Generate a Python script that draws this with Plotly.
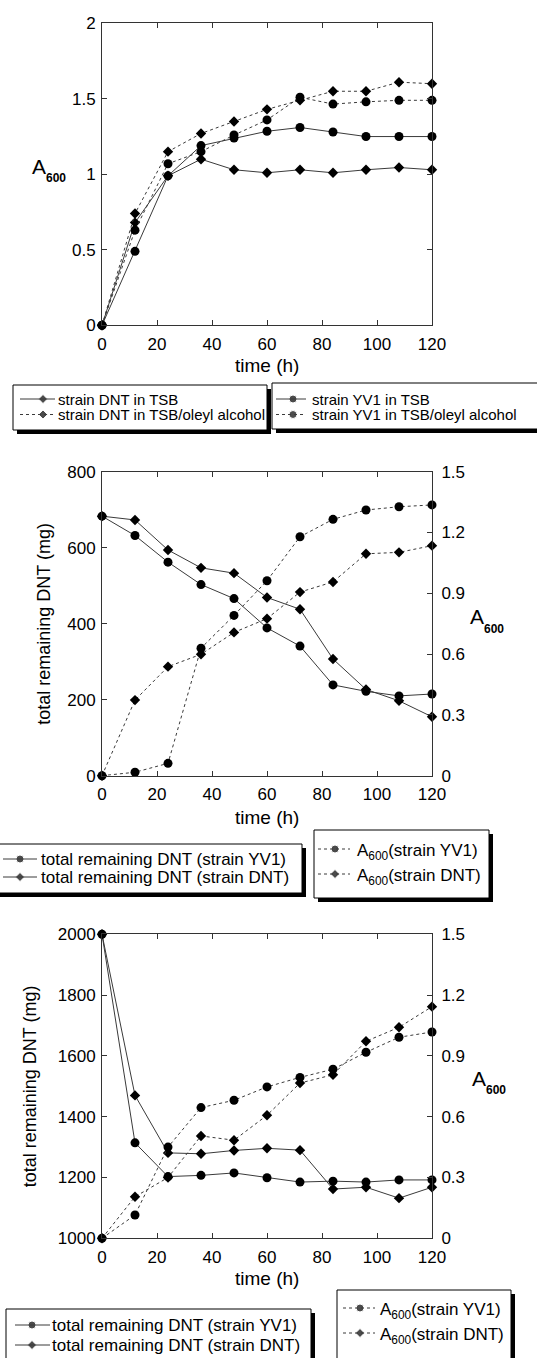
import plotly.graph_objects as go

# ---------------- data ----------------
time_h = [0, 12, 24, 36, 48, 60, 72, 84, 96, 108, 120]

# panel 1: A600
p1_dnt_tsb = [0, 0.68, 0.99, 1.10, 1.03, 1.01, 1.03, 1.01, 1.03, 1.045, 1.03]
p1_dnt_oleyl = [0, 0.74, 1.15, 1.27, 1.35, 1.43, 1.49, 1.55, 1.55, 1.61, 1.60]
p1_yv1_tsb = [0, 0.49, 0.99, 1.19, 1.24, 1.285, 1.31, 1.28, 1.25, 1.25, 1.25]
p1_yv1_oleyl = [0, 0.63, 1.07, 1.15, 1.26, 1.36, 1.51, 1.465, 1.48, 1.49, 1.49]

# panel 2
p2_dnt_yv1 = [683, 632, 562, 503, 466, 389, 341, 239, 222, 210, 215]
p2_dnt_dnt = [683, 673, 594, 547, 533, 469, 438, 307, 227, 197, 155]
p2_a600_yv1 = [0, 0.017, 0.061, 0.629, 0.791, 0.962, 1.179, 1.265, 1.311, 1.327, 1.336]
p2_a600_dnt = [0, 0.373, 0.538, 0.599, 0.707, 0.775, 0.906, 0.956, 1.095, 1.102, 1.135]

# panel 3
p3_dnt_yv1 = [2000, 1314, 1203, 1207, 1215, 1199, 1185, 1188, 1185, 1192, 1192]
p3_dnt_dnt = [2000, 1470, 1281, 1278, 1289, 1296, 1290, 1162, 1168, 1132, 1168]
p3_a600_yv1 = [0, 0.115, 0.45, 0.645, 0.681, 0.747, 0.794, 0.834, 0.918, 0.992, 1.018]
p3_a600_dnt = [0, 0.205, 0.30, 0.505, 0.484, 0.607, 0.766, 0.807, 0.972, 1.041, 1.143]

x_ticks = [0, 20, 40, 60, 80, 100, 120]
a600_ticks_right = [0, 0.3, 0.6, 0.9, 1.2, 1.5]
a600_ticks_p1 = [0, 0.5, 1, 1.5, 2]
dnt_ticks_p2 = [0, 200, 400, 600, 800]
dnt_ticks_p3 = [1000, 1200, 1400, 1600, 1800, 2000]

# legend labels
leg1a = ["strain DNT in TSB", "strain DNT in TSB/oleyl alcohol"]
leg1b = ["strain YV1 in TSB", "strain YV1 in TSB/oleyl alcohol"]
leg_dnt = ["total remaining DNT (strain YV1)", "total remaining DNT (strain DNT)"]
leg_a600 = ["A<sub>600</sub>(strain YV1)", "A<sub>600</sub>(strain DNT)"]

# ---------------- layout helpers ----------------
W, H = 537, 1358
FONT = "Liberation Sans, Arial, sans-serif"
LINE_C = "#3a3a3a"
AX_C = "#333333"


def fx(x):
    return x / W


def fy(y):
    return 1 - y / H


XDOM = [fx(102), fx(432)]
P1 = [fy(325.3), fy(23.3)]
P2 = [fy(775.7), fy(471.7)]
P3 = [fy(1238.3), fy(934.3)]

fig = go.Figure()


def line_trace(x, y, dashed, symbol, xa, ya):
    size = 9 if symbol == "circle" else 8
    return go.Scatter(
        x=x, y=y, xaxis=xa, yaxis=ya, mode="lines+markers", showlegend=False,
        line=dict(color=LINE_C, width=1, dash="3px,3px" if dashed else "solid"),
        marker=dict(symbol=symbol, size=size, color="black"),
        cliponaxis=False, hoverinfo="skip")


# panel 1
fig.add_trace(line_trace(time_h, p1_dnt_tsb, False, "diamond", "x", "y"))
fig.add_trace(line_trace(time_h, p1_dnt_oleyl, True, "diamond", "x", "y"))
fig.add_trace(line_trace(time_h, p1_yv1_tsb, False, "circle", "x", "y"))
fig.add_trace(line_trace(time_h, p1_yv1_oleyl, True, "circle", "x", "y"))
# panel 2
fig.add_trace(line_trace(time_h, p2_dnt_yv1, False, "circle", "x2", "y2"))
fig.add_trace(line_trace(time_h, p2_dnt_dnt, False, "diamond", "x2", "y2"))
fig.add_trace(line_trace(time_h, p2_a600_yv1, True, "circle", "x2", "y3"))
fig.add_trace(line_trace(time_h, p2_a600_dnt, True, "diamond", "x2", "y3"))
# panel 3
fig.add_trace(line_trace(time_h, p3_dnt_yv1, False, "circle", "x3", "y4"))
fig.add_trace(line_trace(time_h, p3_dnt_dnt, False, "diamond", "x3", "y4"))
fig.add_trace(line_trace(time_h, p3_a600_yv1, True, "circle", "x3", "y5"))
fig.add_trace(line_trace(time_h, p3_a600_dnt, True, "diamond", "x3", "y5"))

base_ax = dict(showline=True, linecolor=AX_C, linewidth=1, ticks="inside", ticklen=5,
               tickcolor=AX_C, tickwidth=1, showgrid=False, zeroline=False,
               automargin=False,
               tickfont=dict(family=FONT, size=17, color="black"))


def xax(anchor):
    d = dict(base_ax)
    d.update(domain=XDOM, range=[0, 120], tickvals=x_ticks, mirror="ticks", anchor=anchor,
             ticklabelstandoff=3)
    return d


def yax(dom, rng, tv, anchor, mirror, side="left", overlaying=None, standoff=2):
    d = dict(base_ax)
    d.update(domain=dom, range=rng, tickvals=tv, anchor=anchor, mirror=mirror, side=side,
             ticklabelstandoff=standoff)
    if overlaying:
        d["overlaying"] = overlaying
    return d


fig.update_layout(
    xaxis=xax("y"), xaxis2=xax("y2"), xaxis3=xax("y4"),
    yaxis=yax(P1, [0, 2], a600_ticks_p1, "x", "ticks"),
    yaxis2=yax(P2, [0, 800], dnt_ticks_p2, "x2", True),
    yaxis3=yax(P2, [0, 1.5], a600_ticks_right, "x2", False, "right", "y2", standoff=5),
    yaxis4=yax(P3, [1000, 2000], dnt_ticks_p3, "x3", True),
    yaxis5=yax(P3, [0, 1.5], a600_ticks_right, "x3", False, "right", "y4", standoff=5),
    xaxis4=dict(domain=[0, 1], range=[0, W], visible=False, anchor="y6", automargin=False),
    yaxis6=dict(domain=[0, 1], range=[H, 0], visible=False, anchor="x4", automargin=False),
)

annotations = []
shapes = []


def text(x, y, s, size=16, xanchor="center", yanchor="middle", angle=0):
    annotations.append(dict(x=fx(x), y=fy(y), xref="paper", yref="paper", text=s,
                            showarrow=False, xanchor=xanchor, yanchor=yanchor,
                            textangle=angle, borderpad=0,
                            font=dict(family=FONT, size=size, color="black")))


# axis titles
for yy in (366, 817, 1278):
    text(267, yy, "time (h)", 19)
text(44, 623.7, "total remaining DNT (mg)", 18, angle=-90)
text(30, 1086.3, "total remaining DNT (mg)", 18, angle=-90)


def a600(x, y):
    text(x, y, "A", 21, xanchor="left")
    text(x + 14, y + 12, "<b>600</b>", 12, xanchor="left")


a600(31, 166)
a600(469, 617)
a600(471, 1078)

# legends
leg_mx, leg_my, leg_sym = [], [], []


def legend_box(x0, y0, x1, y1, rows, lx0, lx1, mx, tx, fsize, dy_text=0):
    shapes.append(dict(type="rect", xref="paper", yref="paper", x0=fx(x0 + 4), x1=fx(x1 + 4),
                       y0=fy(y0 + 4), y1=fy(y1 + 4), fillcolor="black", line=dict(width=0),
                       layer="below"))
    shapes.append(dict(type="rect", xref="paper", yref="paper", x0=fx(x0), x1=fx(x1),
                       y0=fy(y0), y1=fy(y1), fillcolor="white",
                       line=dict(color="black", width=1), layer="below"))
    for (ry, dashed, sym, label) in rows:
        shapes.append(dict(type="line", xref="paper", yref="paper", x0=fx(lx0), x1=fx(lx1),
                           y0=fy(ry), y1=fy(ry),
                           line=dict(color=LINE_C, width=1, dash="3px,3px" if dashed else "solid")))
        leg_mx.append(mx)
        leg_my.append(ry)
        leg_sym.append(sym)
        text(tx, ry + dy_text, label, fsize, xanchor="left")


legend_box(13, 385, 267, 430,
           [(399, False, "diamond", leg1a[0]), (414.5, True, "diamond", leg1a[1])],
           20, 55, 43, 57, 15)
legend_box(272, 383, 545, 429,
           [(399, False, "circle", leg1b[0]), (414.5, True, "circle", leg1b[1])],
           276, 306, 293, 311, 15)
legend_box(-5, 844, 302, 893,
           [(859, False, "circle", leg_dnt[0]), (877, False, "diamond", leg_dnt[1])],
           3, 37, 20, 40, 17)
legend_box(314, 830, 489, 898,
           [(849, True, "circle", leg_a600[0]), (874, True, "diamond", leg_a600[1])],
           318, 350, 335, 356, 17, dy_text=3)
legend_box(6, 1309, 311, 1370,
           [(1325, False, "circle", leg_dnt[0]), (1345, False, "diamond", leg_dnt[1])],
           15, 50, 32, 51, 17)
legend_box(337, 1290, 511, 1370,
           [(1308, True, "circle", leg_a600[0]), (1333, True, "diamond", leg_a600[1])],
           343, 375, 360, 379, 17, dy_text=3)

fig.add_trace(go.Scatter(x=leg_mx, y=leg_my, xaxis="x4", yaxis="y6", mode="markers",
                         showlegend=False, hoverinfo="skip", cliponaxis=False,
                         marker=dict(symbol=leg_sym, size=[8 if s == "circle" else 7 for s in leg_sym],
                                     color="black")))

fig.update_layout(width=W, height=H, autosize=False,
                  margin=dict(l=0, r=0, t=0, b=0, pad=0, autoexpand=False),
                  paper_bgcolor="white", plot_bgcolor="rgba(0,0,0,0)",
                  showlegend=False, annotations=annotations, shapes=shapes,
                  font=dict(family=FONT, color="black"))

fig.write_html(
    "out.html",
    config={"displayModeBar": False},
    post_script=("document.documentElement.style.margin='0';"
                 "document.documentElement.style.overflow='hidden';"
                 "document.body.style.margin='0';document.body.style.overflow='hidden';"),
)
